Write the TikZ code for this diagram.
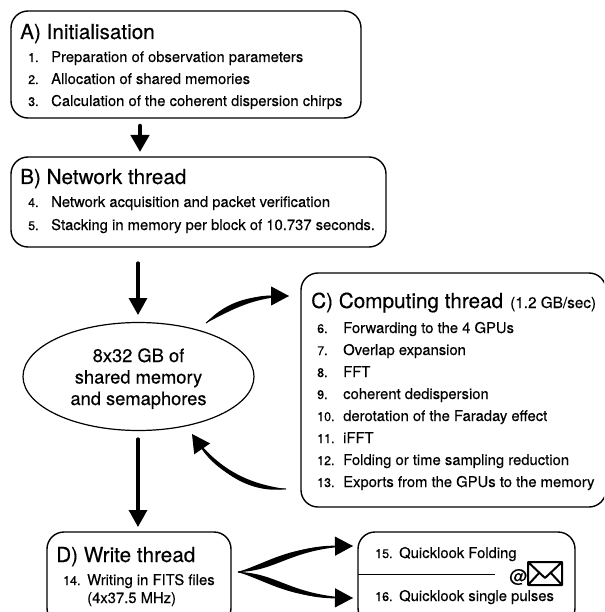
\documentclass[tikz,border=0pt]{standalone}
\usepackage{fontspec}
\setmainfont{TeX Gyre Heros}[FakeBold=0.25]
\usetikzlibrary{arrows.meta,shapes.geometric}
\tikzset{
  x=1pt,y=-1pt,
  panel/.style={draw=black,line width=1.4pt,rounded corners=17pt},
  title/.style={anchor=base west,inner sep=0,font=\fontsize{20.7}{22}\selectfont},
  item/.style={anchor=base west,inner sep=0,font=\fontsize{14.8}{16}\selectfont},
  num/.style={anchor=base west,inner sep=0,font=\fontsize{12.5}{16}\selectfont},
  memline/.style={anchor=base,inner sep=0,font=\fontsize{18.3}{20}\selectfont},
  flow/.style={line width=3.2pt,line cap=round,-{Triangle[length=17pt,width=18pt]}},
  thinflow/.style={line width=1pt,-{Triangle[length=18pt,width=19pt]}},
  taper/.style={fill=black,draw=none}
}
\begin{document}
\begin{tikzpicture}
\useasboundingbox (0,0) rectangle (604,612);
\clip (0,0) rectangle (604,612);
\draw[panel] (11,11) rectangle (361,118);
\draw[panel] (11,157) rectangle (386,247);
\draw[panel] (301,273) rectangle (606,507);
\draw[panel] (47,532) rectangle (231,625);
\draw[panel] (358,532) rectangle (575,625);
\node[draw,line width=1.2pt,ellipse,minimum width=231pt,minimum height=108pt,inner sep=0] (mem) at (138.5,376.5) {};
\node[memline] (m1) at (138.5,362) {8x32 GB of};
\node[memline] (m2) at (138.5,383.5) {shared memory};
\node[memline] (m3) at (138.5,405) {and semaphores};

\node[title] (ta) at (20,39) {A) Initialisation};
\node[num] (n1) at (28,62) {1.};\node[item] (i1) at (51,62) {Preparation of observation parameters};
\node[num] (n2) at (28,84) {2.};\node[item] (i2) at (51,84) {Allocation of shared memories};
\node[num] (n3) at (28,106) {3.};\node[item] (i3) at (51,106) {Calculation of the coherent dispersion chirps};

\node[title] (tb) at (20,184) {B) Network thread};
\node[num] (n4) at (28,207) {4.};\node[item] (i4) at (51,207) {Network acquisition and packet verification};
\node[num] (n5) at (28,230) {5.};\node[item] (i5) at (51,230) {Stacking in memory per block of 10.737 seconds.};

\node[title] (tc) at (311,308) {C) Computing thread};
\node[anchor=base west,inner sep=0,font=\fontsize{15.3}{16}\selectfont] (tc2) at (510,308) {(1.2 GB/sec)};
\foreach \n/\t/\y in {6./Forwarding to the 4 GPUs/333,7./Overlap expansion/355,8./FFT/377,9./coherent dedispersion/399,10./derotation of the Faraday effect/421,11./iFFT/443,12./Folding or time sampling reduction/465,13./Exports from the GPUs to the memory/487}{
  \node[num] at (317,\y) {\n};\node[item] at (343,\y) {\t};
}
\node[title] (td) at (56,562) {D) Write thread};
\node[num] (n14) at (63,585) {14.};\node[item] (i14) at (87,585) {Writing in FITS files};
\node[item] (i14b) at (87,603) {(4x37.5 MHz)};
\node[num] (n15) at (375,558) {15.};\node[item] (i15) at (399,558) {Quicklook Folding};
\node[num] (n16) at (375,601) {16.};\node[item] (i16) at (399,601) {Quicklook single pulses};
\coordinate (dl) at (358,574);
\coordinate (dr) at (495,574);
\draw[line width=1pt] (dl) -- (dr);
\node[inner sep=0,font=\fontsize{18}{18}\selectfont] (at) at (518.5,577) {@};
\draw[line width=2pt,line join=round] (528,562) rectangle (562,585) (528,562) -- (545,578) -- (562,562) (528,585) -- (540,572) (562,585) -- (550,572);

% arrows
\coordinate (ab) at (140,126);\coordinate (ae) at (140,152);
\draw[flow,line width=4.5pt] (ab) -- (ae);
\coordinate (bb) at (138,263);\coordinate (be) at (138,315);
\draw[flow] (bb) -- (be);
\coordinate (mb) at (138,439);\coordinate (me) at (138,527);
\draw[flow] (mb) -- (me);
\coordinate (ca) at (206,323);\coordinate (cb) at (289,296);
\draw[thinflow] (ca) .. controls (230,305) and (252,296) .. (cb);
\fill[taper] (ca) .. controls (226.5,301) and (252,294) .. (cb) .. controls (252,298) and (233.5,309) .. (ca) -- cycle;
\coordinate (da) at (286,489);\coordinate (db) at (192,434);
\draw[thinflow] (da) .. controls (250,489) and (218,472) .. (db);
\fill[taper] (da) .. controls (249.6,484) and (219.6,470.8) .. (db) .. controls (216.4,473.2) and (250.4,494) .. (da) -- cycle;
\coordinate (fo) at (238,572);\coordinate (f1) at (353,546);\coordinate (f2) at (353,598);
\draw[thinflow] (fo) .. controls (275,566) and (290,546.5) .. (f1);
\draw[thinflow] (fo) .. controls (275,578) and (290,597.5) .. (f2);
\fill[taper] (fo) .. controls (272,561) and (290,544.5) .. (f1) .. controls (290,548.5) and (278,571) .. (fo) -- cycle;
\fill[taper] (fo) .. controls (278,573) and (290,595.5) .. (f2) .. controls (290,599.5) and (272,583) .. (fo) -- cycle;
\end{tikzpicture}
\end{document}
